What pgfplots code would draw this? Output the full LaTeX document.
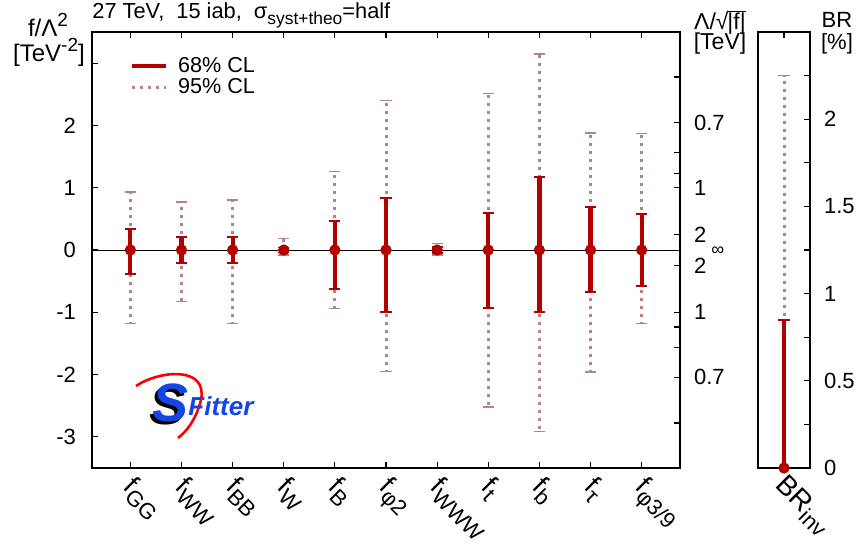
\documentclass[border=0pt]{standalone}
\usepackage{fontspec}
\setmainfont{Liberation Sans}
\usepackage{pgfplots}
\usepackage{pgfplotstable}
\pgfplotsset{compat=1.18}
\definecolor{cldark}{RGB}{178,0,0}
\definecolor{clrose}{RGB}{180,132,132}
\definecolor{logoblue}{RGB}{20,70,230}
\newcommand{\sub}[1]{\raisebox{-0.45ex}{\fontsize{8.7}{8.7}\selectfont #1}}
\newcommand{\xsub}[1]{\raisebox{-0.45ex}{\fontsize{11}{11}\selectfont #1}}
\newcommand{\sups}[1]{\raisebox{0.85ex}{\fontsize{9.5}{9.5}\selectfont #1}}
\tikzset{
  cl95/.style={clrose, line width=1.5pt, dash pattern=on 1.5pt off 2.5pt},
  cl68/.style={cldark, line width=2.1pt},
}
\pgfplotstableread{
x y p68 m68 p95 m95
0 0 0.34 0.38 0.93 1.18
1 0 0.21 0.21 0.77 0.83
2 0 0.21 0.21 0.80 1.18
3 0 0.04 0.04 0.18 0.08
4 0 0.46 0.62 1.26 0.94
5 0 0.83 0.99 2.40 1.95
6 0 0.05 0.05 0.10 0.08
7 0 0.60 0.93 2.51 2.52
8 0 1.17 1.00 3.15 2.91
9 0 0.69 0.68 1.88 1.96
10 0 0.58 0.58 1.87 1.18
}\coeffs
\pgfplotstableread{
x y p68 m68 p95 m95
0 0 0.85 0 2.25 0
}\brinv
\begin{document}
\begin{tikzpicture}
\path[use as bounding box] (0pt,0pt) rectangle (430pt,273pt);
% right-hand Lambda scale
\begin{axis}[
  at={(46pt,39pt)}, anchor=south west, scale only axis,
  width=294pt, height=218pt,
  xmin=-0.75, xmax=10.75, ymin=-3.5, ymax=3.5, clip=false,
  axis line style={line width=1pt},
  tick align=inside, major tick length=3pt,
  tick style={black, line width=0.6pt},
  xtick=\empty,
  ytick={-2.7778,-2.0408,-1.5625,-1.2346,-1,-0.25,0.25,1,1.2346,1.5625,2.0408,2.7778},
  yticklabels={,0.7,,,1,2,2,1,,,0.7,},
  ytick pos=right, yticklabel pos=right,
  tick label style={font=\fontsize{11}{12}\selectfont},
  yticklabel style={anchor=west, xshift=3.5pt},
]
\node[anchor=west, font=\fontsize{9}{9}\selectfont, inner sep=0pt, xshift=15.5pt, yshift=-0.5pt] at (rel axis cs:1,0.5) {∞};
\end{axis}
% main axis
\begin{axis}[
  at={(46pt,39pt)}, anchor=south west, scale only axis,
  width=294pt, height=218pt,
  xmin=-0.75, xmax=10.75, ymin=-3.5, ymax=3.5,
  axis line style={line width=1pt},
  tick align=inside, major tick length=3pt,
  tick style={black, line width=0.6pt},
  xtick={0,...,10},
  xticklabels={f\xsub{GG},f\xsub{WW},f\xsub{BB},f\xsub{W},f\xsub{B},f\xsub{φ2},f\xsub{WWW},f\xsub{t},f\xsub{b},f\xsub{τ},f\xsub{φ3/9}},
  xtick pos=both, xticklabel pos=lower,
  ytick={-3,...,3}, yticklabels={-3,-2,-1,0,1,2,},
  ytick pos=left,
  tick label style={font=\fontsize{11}{12}\selectfont},
  yticklabel style={xshift=-4.5pt},
  xticklabel style={rotate=-45, anchor=north west, font=\fontsize{13.5}{14}\selectfont, inner sep=1pt, xshift=3.5pt, yshift=1pt},
  legend style={draw=none, fill=none, at={(0.054,0.962)}, anchor=north west,
    font=\fontsize{10.8}{11}\selectfont, legend cell align=left, row sep=-2.5pt},
  legend image code/.code={\draw[#1] (0cm,0cm) -- (0.6cm,0cm); \path (0.7cm,0cm);},
]
\addlegendimage{cl68}\addlegendentry{68\% CL}
\addlegendimage{cl95}\addlegendentry{95\% CL}
\addplot[black, line width=0.5pt, forget plot] coordinates {(-0.75,0) (10.75,0)};
\addplot[only marks, mark=none, forget plot,
  error bars/.cd, y dir=both, y explicit, error mark=|,
  error bar style={cl95},
  error mark options={clrose, solid, line width=0.7pt, mark size=2.8pt}]
  table[x=x, y=y, y error plus=p95, y error minus=m95] {\coeffs};
\addplot[only marks, mark=none, forget plot,
  error bars/.cd, y dir=both, y explicit, error mark=|,
  error bar style={cl68},
  error mark options={cldark, solid, line width=0.9pt, mark size=2.8pt}]
  table[x=x, y=y, y error plus=p68, y error minus=m68] {\coeffs};
\addplot[only marks, mark=*, mark size=2.6pt, cldark, forget plot]
  table[x=x, y=y] {\coeffs};
\end{axis}
% BR axis
\begin{axis}[
  at={(379pt,39pt)}, anchor=south west, scale only axis,
  width=26pt, height=218pt,
  xmin=-0.5, xmax=0.5, ymin=0, ymax=2.5, clip=false,
  axis line style={line width=1pt},
  tick align=inside, major tick length=3pt, minor tick length=3pt,
  tick style={black, line width=0.6pt},
  xtick={0}, xticklabels={BR\xsub{inv}}, xtick pos=both, xticklabel pos=lower,
  ytick={0,0.5,1,1.5,2}, yticklabels={0,0.5,1,1.5,2},
  minor ytick={0.25,0.75,1.25,1.75,2.25},
  ytick pos=right, yticklabel pos=right,
  tick label style={font=\fontsize{11}{12}\selectfont},
  yticklabel style={anchor=west, xshift=3.5pt},
  xticklabel style={rotate=-45, anchor=north west, font=\fontsize{14}{14}\selectfont, inner sep=1pt, xshift=2pt, yshift=1pt},
]
\addplot[only marks, mark=none,
  error bars/.cd, y dir=plus, y explicit, error mark=|,
  error bar style={cl95},
  error mark options={clrose, solid, line width=0.7pt, mark size=2.8pt}]
  table[x=x, y=y, y error plus=p95, y error minus=m95] {\brinv};
\addplot[only marks, mark=none,
  error bars/.cd, y dir=plus, y explicit, error mark=|,
  error bar style={cl68},
  error mark options={cldark, solid, line width=0.9pt, mark size=2.8pt}]
  table[x=x, y=y, y error plus=p68, y error minus=m68] {\brinv};
\addplot[only marks, mark=*, mark size=2.6pt, cldark]
  table[x=x, y=y] {\brinv};
\end{axis}
% titles and labels
\node[anchor=base west, font=\fontsize{10.9}{11}\selectfont, inner sep=0pt] at (46pt,263.5pt)
  {27 TeV,\ \ 15 iab,\ \ σ\sub{syst+theo}=half};
\node[anchor=base, font=\fontsize{12}{12}\selectfont, inner sep=0pt] at (24pt,254.5pt) {f/Λ\sups{2}};
\node[anchor=base, font=\fontsize{12}{12}\selectfont, inner sep=0pt] at (24.5pt,242pt) {[TeV\sups{-2}]};
\node[anchor=base, font=\fontsize{11.5}{12}\selectfont, inner sep=0pt] at (360pt,258pt)
  {Λ/√\kern-0.05em\vbox{\hrule height 0.5pt\kern 0.6pt\hbox{|f|}}};
\node[anchor=base, font=\fontsize{11.5}{12}\selectfont, inner sep=0pt] at (360pt,248pt) {[TeV]};
\node[anchor=base, font=\fontsize{11}{12}\selectfont, inner sep=0pt] at (418.5pt,259pt) {BR};
\node[anchor=base, font=\fontsize{11}{12}\selectfont, inner sep=0pt] at (418.5pt,248pt) {[\%]};
% SFitter logo
\draw[red, line width=1.3pt] (68pt,80pt) .. controls (80pt,88pt) and (104pt,90pt) .. (100.5pt,73pt)
  .. controls (98pt,63pt) and (93pt,57pt) .. (89pt,54pt);
\node[anchor=base, font=\fontsize{27}{27}\selectfont\bfseries\itshape, text=black, inner sep=0pt] at (84pt,61pt) {S};
\node[anchor=base, font=\fontsize{27}{27}\selectfont\bfseries\itshape, text=logoblue, inner sep=0pt] at (85.5pt,62.5pt) {S};
\node[anchor=base west, font=\fontsize{13}{13}\selectfont\bfseries\itshape, text=logoblue, inner sep=0pt] at (94pt,65.5pt) {Fitter};
\end{tikzpicture}
\end{document}
